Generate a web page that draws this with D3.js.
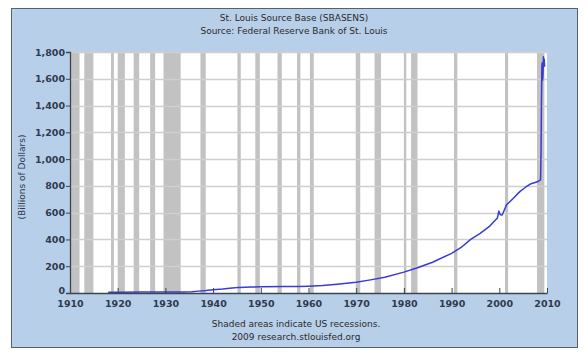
<!DOCTYPE html>
<html><head><meta charset="utf-8">
<script src="https://cdn.jsdelivr.net/npm/d3@7"></script>
<style>body{margin:0;background:#fff}svg{display:block}</style>
</head><body>
<script>
// ---- data ----
const titleLines = ["St. Louis Source Base (SBASENS)", "Source: Federal Reserve Bank of St. Louis"];
const footerLines = ["Shaded areas indicate US recessions.", "2009 research.stlouisfed.org"];
const yAxisTitle = "(Billions of Dollars)";
const xTicks = [1910,1920,1930,1940,1950,1960,1970,1980,1990,2000,2010];
const yTicks = [0,200,400,600,800,1000,1200,1400,1600,1800];
const recessionStart = [1910.0,1913.0,1918.6,1920.0,1923.35,1926.8,1929.6,1937.35,1945.1,1948.85,1953.5,1957.6,1960.3,1969.9,1973.85,1980.0,1981.5,1990.5,2001.2,2007.9];
const recessionEnd   = [1912.0,1914.9,1919.2,1921.5,1924.5,1927.85,1933.2,1938.45,1945.8,1949.8,1954.4,1958.3,1961.1,1970.85,1975.2,1980.5,1982.85,1991.2,2001.85,2009.45];
const dates = [1918,1920,1925,1930,1934,1935.5,1937,1938.5,1940,1942,1944,1945.5,1948,1950,1955,1958,1960,1963,1966,1970,1973,1976,1980,1983,1986,1990,1992,1994,1996,1998,1999.6,1999.9,2000.2,2000.6,2001.5,2003,2004.3,2005.5,2006.5,2007.5,2008.2,2008.65,2008.75,2008.83,2008.92,2009.0,2009.08,2009.17,2009.25,2009.33,2009.42,2009.5];
const values = [5,6,7,7,8,9,14,18,24,30,38,42,45,46,48,49,51,56,66,80,98,118,156,190,230,296,340,400,445,500,560,612,585,582,657,710,757,790,814,825,835,845,1050,1400,1690,1720,1590,1640,1765,1700,1745,1690];

// ---- layout ----
const W = 588, H = 357;
const svg = d3.select("body").append("svg").attr("width", W).attr("height", H);
const font = "DejaVu Sans, Verdana, sans-serif";
const textCol = "#2e3a4e";

svg.append("rect").attr("x", 11.5).attr("y", 8.5).attr("width", 566).attr("height", 339)
  .attr("fill", "#b8cfe9").attr("stroke", "#56616d").attr("stroke-width", 1);

const x = d3.scaleLinear().domain([1910, 2010]).range([70, 547]);
const y = d3.scaleLinear().domain([0, 1800]).range([293, 52]);

// plot area
svg.append("rect").attr("x", x(1910)).attr("y", y(1800)).attr("width", x(2010) - x(1910)).attr("height", y(0) - y(1800)).attr("fill", "#fff");

// recession bars
svg.append("g").selectAll("rect").data(recessionStart).join("rect")
  .attr("x", (d) => x(d)).attr("y", y(1800))
  .attr("width", (d, i) => x(recessionEnd[i]) - x(d))
  .attr("height", y(0) - y(1800)).attr("fill", "#c2c2c2");

// grid
svg.append("g").selectAll("line").data(yTicks.slice(1)).join("line")
  .attr("x1", x(1910)).attr("x2", x(2010)).attr("y1", (d) => Math.round(y(d)) + 0.5).attr("y2", (d) => Math.round(y(d)) + 0.5)
  .attr("stroke", "#cfcfcf").attr("stroke-width", 1.3);

// line
const line = d3.line().x((d, i) => x(dates[i])).y((d) => y(d));
svg.append("path").datum(values).attr("d", line).attr("fill", "none")
  .attr("stroke", "#3a3ad6").attr("stroke-width", 1.5).attr("stroke-linejoin", "round");

// axes
const yAxis = d3.axisLeft(y).tickValues(yTicks).tickSize(4).tickFormat(d3.format(","));
const gy = svg.append("g").attr("transform", `translate(${x(1910)},0)`).call(yAxis);
gy.select(".domain").attr("stroke", "#3c4450").attr("stroke-width", 1.3);
gy.selectAll(".tick line").attr("stroke", "#3c4450");
gy.selectAll("text").attr("font-family", font).attr("font-size", 9.5).attr("font-weight", "bold").attr("fill", textCol).attr("x", -5)
  .attr("dy", (d) => d === 0 ? "0.1em" : "0.32em");

const xAxis = d3.axisBottom(x).tickValues(xTicks).tickSizeInner(-5).tickSizeOuter(0).tickFormat(d3.format("d"));
const gx = svg.append("g").attr("transform", `translate(0,${y(0)})`).call(xAxis);
gx.select(".domain").attr("stroke", "#3c4450").attr("stroke-width", 1.3);
gx.selectAll(".tick line").attr("stroke", "#3c4450");
gx.selectAll("text").attr("font-family", font).attr("font-size", 9.5).attr("font-weight", "bold").attr("fill", textCol).attr("y", 7);

// titles
svg.append("g").selectAll("text").data(titleLines).join("text")
  .attr("x", 294).attr("y", (d, i) => 21 + i * 13.3).attr("text-anchor", "middle")
  .attr("font-family", font).attr("font-size", 9).attr("fill", "#2a2a2a").text((d) => d);

svg.append("g").selectAll("text").data(footerLines).join("text")
  .attr("x", 296).attr("y", (d, i) => 326.5 + i * 13.3).attr("text-anchor", "middle")
  .attr("font-family", font).attr("font-size", 9).attr("fill", "#2a2a2a").text((d) => d);

svg.append("text").attr("transform", "translate(25,177) rotate(-90)").attr("text-anchor", "middle")
  .attr("font-family", font).attr("font-size", 9).attr("fill", textCol).text(yAxisTitle);
</script>
</body></html>
